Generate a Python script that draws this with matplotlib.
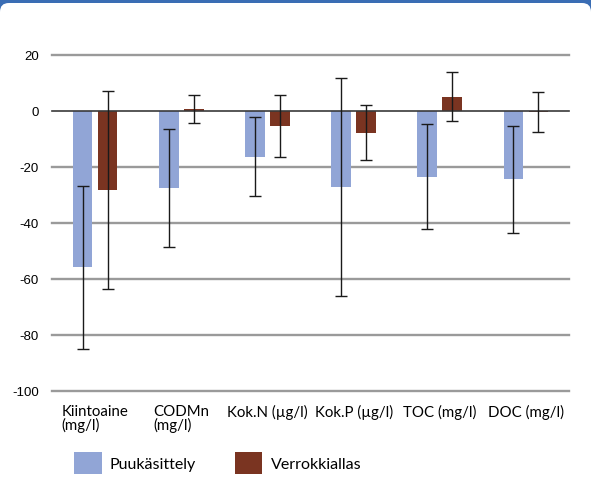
import matplotlib
matplotlib.use("Agg")
import matplotlib.pyplot as plt
import numpy as np
from matplotlib.patches import Rectangle, FancyBboxPatch, Patch

categories = ["Kiintoaine\n(mg/l)", "CODMn\n(mg/l)", "Kok.N (µg/l)", "Kok.P (µg/l)", "TOC (mg/l)", "DOC (mg/l)"]
series_names = ["Puukäsittely", "Verrokkiallas"]
puu_values = [-56.0, -27.7, -16.5, -27.3, -23.6, -24.6]
puu_errors = [29.0, 21.0, 14.1, 38.9, 18.8, 19.1]
ver_values = [-28.3, 0.5, -5.5, -7.9, 5.0, -0.6]
ver_errors = [35.3, 5.1, 11.0, 9.9, 8.9, 7.2]
yticks = [20, 0, -20, -40, -60, -80, -100]

blue = "#91A5D6"
brown = "#7A3421"

fig = plt.figure(figsize=(5.91, 5.02), dpi=100)
fig.patch.set_facecolor("white")
# blue frame at top with rounded white panel
fig.patches.append(Rectangle((0, 1 - 14/502), 1, 14/502, transform=fig.transFigure,
                             facecolor="#3A6DB4", edgecolor="none", zorder=0))
fig.patches.append(FancyBboxPatch((0, -0.1), 1, 1.1 - 4/502,
                                  boxstyle="round,pad=0,rounding_size=0.015",
                                  transform=fig.transFigure, facecolor="white",
                                  edgecolor="none", zorder=1, mutation_aspect=591/502))

ax = fig.add_axes([52/591, 1 - 391.5/502, (569 - 52)/591, (391.5 - 55.5)/502])
ax.set_zorder(2)
ax.patch.set_alpha(0)

x = np.arange(len(categories))
w = 0.23
off = 0.145
ax.bar(x - off, puu_values, w, color=blue, zorder=2)
ax.bar(x + off, ver_values, w, color=brown, zorder=2)
ax.errorbar(x - off, puu_values, yerr=puu_errors, fmt="none", ecolor="#1a1a1a",
            elinewidth=1.0, capsize=4.5, capthick=1.0, zorder=4)
ax.errorbar(x + off, ver_values, yerr=ver_errors, fmt="none", ecolor="#1a1a1a",
            elinewidth=1.0, capsize=4.5, capthick=1.0, zorder=4)

ax.set_xlim(-0.5, len(categories) - 0.5)
ax.set_ylim(-100, 20)
ax.set_yticks(yticks)
ax.set_yticklabels([str(v) for v in yticks], fontfamily="Liberation Sans", fontsize=9.5)
for v in yticks:
    if v == 0:
        ax.axhline(v, color="#3a3a3a", lw=1.2, zorder=3, clip_on=False)
    else:
        ax.axhline(v, color="#9A9A9A", lw=1.7, zorder=1, clip_on=False)

ax.set_xticks(x)
ax.set_xticklabels(categories, fontfamily="Lato", fontsize=10.8, multialignment="left",
                   linespacing=0.9)
ax.tick_params(axis="both", length=0)
ax.tick_params(axis="y", pad=9.5)
ax.tick_params(axis="x", pad=10)
for s in ax.spines.values():
    s.set_visible(False)

handles = [Patch(facecolor=blue, edgecolor="none"), Patch(facecolor=brown, edgecolor="none")]
fig.legend(handles, series_names, loc="center left", bbox_to_anchor=(74/591, 1 - 464/502),
           ncol=2, frameon=False, borderpad=0, borderaxespad=0,
           prop={"family": "Lato", "size": 11.5},
           handlelength=1.75, handleheight=1.75, handletextpad=0.5, columnspacing=2.4)

fig.savefig("out.png", dpi=100, facecolor=fig.get_facecolor())
